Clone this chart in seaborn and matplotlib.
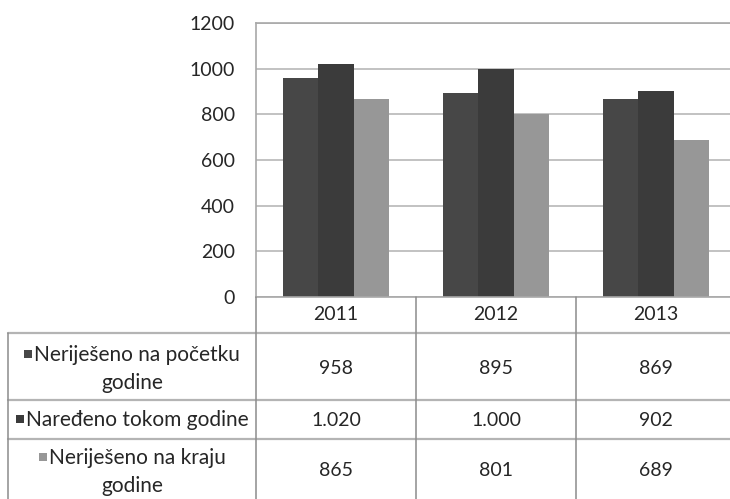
import matplotlib
matplotlib.use('Agg')
import matplotlib.pyplot as plt
import seaborn as sns
import pandas as pd
from matplotlib.lines import Line2D
from matplotlib.patches import Rectangle

# ─────────────────────────────────────────────
# DATA
# ─────────────────────────────────────────────
years = ['2011', '2012', '2013']
series = ['Neriješeno na početku godine', 'Naređeno tokom godine', 'Neriješeno na kraju godine']
pocetak = [958, 895, 869]
naredeno = [1020, 1000, 902]
kraj = [865, 801, 689]
row_labels = [['Neriješeno na početku', 'godine'],
              ['Naređeno tokom godine'],
              ['Neriješeno na kraju', 'godine']]
y_ticks = [0, 200, 400, 600, 800, 1000, 1200]
colors = ['#474747', '#3b3b3b', '#979797']

df = pd.DataFrame({
    'godina': years * 3,
    'serija': [s for s in series for _ in years],
    'broj': pocetak + naredeno + kraj,
})

# ─────────────────────────────────────────────
# FIGURE
# ─────────────────────────────────────────────
sns.set_style('white')
plt.rcParams['font.family'] = ['Lato', 'DejaVu Sans']
W, H = 730, 499
fs = 14      # numbers
fs_lab = 15  # row labels
tc = '#262626'
fig = plt.figure(figsize=(W / 100, H / 100), dpi=100)

def fx(x):
    return x / W

def fy(y):
    return 1 - y / H

ax = fig.add_axes([fx(256), fy(297), 480 / W, 274 / H])
sns.barplot(data=df, x='godina', y='broj', hue='serija', palette=colors,
            width=0.66, gap=0, saturation=1, errorbar=None, linewidth=0,
            legend=False, ax=ax)
ax.set_ylim(0, 1200)
ax.set_xlim(-0.5, 2.5)
ax.set_yticks(y_ticks)
ax.set_yticklabels([str(v) for v in y_ticks], fontsize=fs, color=tc)
ax.set_xticks([])
ax.set_xlabel('')
ax.set_ylabel('')
ax.tick_params(axis='y', length=0, pad=15)
ax.yaxis.grid(True, color='#b8b8b8', lw=1.2)
ax.set_axisbelow(True)
for sp in ax.spines.values():
    sp.set_color('#a8a8a8')
    sp.set_linewidth(1.2)

# ─────────────────────────────────────────────
# DATA TABLE UNDER THE CHART
# ─────────────────────────────────────────────
col_x = [8, 256, 416, 576, 736]
row_y = [297, 333, 400, 439, 520]

def hline(y, x0, x1, c='#b4b4b4', lw=1.6):
    fig.add_artist(Line2D([fx(x0), fx(x1)], [fy(y), fy(y)], color=c, lw=lw))

def vline(x, y0, y1, c='#8c8c8c', lw=1.1):
    fig.add_artist(Line2D([fx(x), fx(x)], [fy(y0), fy(y1)], color=c, lw=lw))

for y in row_y[1:4]:
    hline(y, col_x[0], W + 10)
vline(col_x[0], row_y[1], H + 10)
for x in col_x[1:4]:
    vline(x, row_y[0], H + 10)

centers = [(col_x[i] + col_x[i + 1]) / 2 for i in range(len(col_x) - 1)]

# header row: years
for i, yr in enumerate(years):
    fig.text(fx(centers[i + 1]), fy(315), yr, ha='center', va='center',
             fontsize=fs, color=tc)

values = [pocetak, naredeno, kraj]
value_y = [368, 420, 470]
line_y = [[355, 383], [420], [458, 486]]

r = fig.canvas.get_renderer()

def text_w(s):
    t = fig.text(0, 0, s, fontsize=fs_lab)
    w = t.get_window_extent(renderer=r).width
    t.remove()
    return w

for k in range(3):
    # values
    for i, v in enumerate(values[k]):
        fig.text(fx(centers[i + 1]), fy(value_y[k]), f'{v:,}'.replace(',', '.'),
                 ha='center', va='center', fontsize=fs, color=tc)
    # row label with colour key
    lines = row_labels[k]
    mk = 8
    gap = 2
    w1 = text_w(lines[0])
    left = centers[0] - (mk + gap + w1) / 2
    fig.add_artist(Rectangle((fx(left), fy(line_y[k][0] + 3)), mk / W, mk / H,
                             color=colors[k], lw=0))
    fig.text(fx(left + mk + gap), fy(line_y[k][0]), lines[0], ha='left',
             va='center', fontsize=fs_lab, color=tc)
    for j in range(1, len(lines)):
        fig.text(fx(centers[0]), fy(line_y[k][j]), lines[j], ha='center',
                 va='center', fontsize=fs_lab, color=tc)

plt.savefig('out.png', dpi=100)
plt.close()
